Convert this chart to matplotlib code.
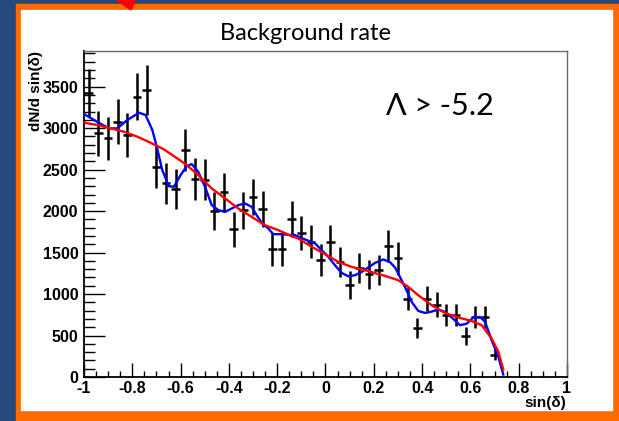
import matplotlib.pyplot as plt
import matplotlib.patches as mpatches
import numpy as np

# binned data: bin centres in sin(delta), values and errors
sin_dec = [-0.98, -0.94, -0.90, -0.86, -0.82, -0.78, -0.74, -0.70, -0.66, -0.62,
	-0.58, -0.54, -0.50, -0.46, -0.42, -0.38, -0.34, -0.30, -0.26, -0.22,
	-0.18, -0.14, -0.10, -0.06, -0.02, 0.02, 0.06, 0.10, 0.14, 0.18,
	0.22, 0.26, 0.30, 0.34, 0.38, 0.42, 0.46, 0.50, 0.54, 0.58,
	0.62, 0.66, 0.70]
rate = [3420, 2937, 2877, 3078, 2917, 3379, 3460, 2534, 2334, 2262,
	2736, 2385, 2380, 2006, 2227, 1783, 2008, 2166, 2028, 1541,
	1541, 1905, 1730, 1630, 1408, 1630, 1388, 1107, 1315, 1236,
	1288, 1580, 1429, 946, 596, 946, 874, 745, 745, 491,
	724, 724, 270]
rate_err = [290, 270, 262, 272, 265, 286, 300, 255, 245, 240,
	255, 250, 250, 230, 235, 211, 225, 215, 217, 197,
	197, 217, 205, 200, 191, 200, 185, 171, 181, 177,
	177, 195, 196, 141, 121, 145, 145, 135, 135, 107,
	130, 130, 68]

# blue (fine) fit, traced
blue_x = [-1.0, -0.945, -0.896, -0.862, -0.821, -0.772, -0.745, -0.717, -0.697, -0.676,
	-0.649, -0.628, -0.600, -0.575, -0.554, -0.527, -0.499, -0.471, -0.444, -0.416,
	-0.388, -0.361, -0.333, -0.306, -0.285, -0.264, -0.237, -0.216, -0.181, -0.140,
	-0.126, -0.085, -0.043, -0.016, 0.012, 0.039, 0.067, 0.094, 0.122, 0.150,
	0.177, 0.205, 0.239, 0.267, 0.288, 0.301, 0.329, 0.357, 0.384, 0.412,
	0.440, 0.467, 0.495, 0.523, 0.557, 0.585, 0.612, 0.640, 0.661, 0.688,
	0.716, 0.736]
blue_y = [3170, 3075, 2997, 2997, 3098, 3186, 3158, 2977, 2756, 2494,
	2301, 2293, 2434, 2540, 2567, 2474, 2293, 2072, 2012, 1991,
	2032, 2072, 2092, 2052, 1951, 1859, 1791, 1722, 1722, 1710,
	1710, 1658, 1610, 1529, 1448, 1348, 1255, 1215, 1227, 1267,
	1320, 1376, 1417, 1385, 1320, 1248, 1086, 905, 797, 772,
	789, 813, 785, 717, 624, 644, 717, 724, 664, 443,
	241, 30]

# red (smooth) fit, traced
red_x = [-1.0, -0.945, -0.889, -0.834, -0.779, -0.724, -0.669, -0.614, -0.577, -0.527,
	-0.471, -0.416, -0.361, -0.306, -0.251, -0.195, -0.140, -0.113, -0.057, -0.002,
	0.053, 0.108, 0.164, 0.219, 0.246, 0.301, 0.343, 0.384, 0.440, 0.495,
	0.550, 0.605, 0.647, 0.688, 0.716, 0.736]
red_y = [3066, 3038, 2997, 2957, 2897, 2824, 2744, 2635, 2560, 2434,
	2273, 2153, 2032, 1931, 1831, 1770, 1698, 1670, 1569, 1481,
	1388, 1328, 1288, 1240, 1220, 1167, 1086, 986, 865, 772,
	717, 676, 624, 463, 302, 90]

W, H = 619, 421
fig = plt.figure(figsize=(W / 100, H / 100), dpi=100)
fig.patch.set_facecolor('#224a7c')

def px_rect(x0, y0, x1, y1, color):
	# rectangle given in pixel coords (origin top-left)
	fig.patches.append(mpatches.Rectangle((x0 / W, 1 - y1 / H), (x1 - x0) / W, (y1 - y0) / H,
		transform=fig.transFigure, color=color, zorder=-10))

px_rect(16, 4, W, H, '#ff6a00')
px_rect(21, 9.5, 612, 410, 'white')
fig.patches.append(mpatches.Polygon([(117 / W, 1.0), (135 / W, 1.0), (131 / W, 1 - 10 / H)],
	closed=True, transform=fig.transFigure, color='#ff0000', zorder=-5))

ax = fig.add_axes([84 / W, 1 - 377 / H, 483 / W, 326 / H])
ax.set_facecolor('white')

ax.errorbar(sin_dec, rate, yerr=rate_err, xerr=0.018, fmt='none', ecolor='black',
	elinewidth=1.8, capsize=0, zorder=2)
ax.plot(blue_x, blue_y, color='#0000ff', lw=1.7, zorder=3)
ax.plot(red_x, red_y, color='#ff0000', lw=1.7, zorder=4)

ax.set_xlim(-1, 1)
ax.set_ylim(0, 3930)

xt = [-1, -0.8, -0.6, -0.4, -0.2, 0, 0.2, 0.4, 0.6, 0.8, 1]
yt = [0, 500, 1000, 1500, 2000, 2500, 3000, 3500]
ax.set_xticks(xt)
ax.set_xticklabels(['-1', '-0.8', '-0.6', '-0.4', '-0.2', '0', '0.2', '0.4', '0.6', '0.8', '1'])
ax.set_xticks(np.arange(-1, 1.001, 0.05), minor=True)
ax.set_yticks(yt)
ax.set_yticklabels([str(v) for v in yt])
ax.set_yticks(np.arange(0, 3901, 100), minor=True)

for lab in ax.get_xticklabels() + ax.get_yticklabels():
	lab.set_family('Liberation Sans')
	lab.set_fontweight('bold')
	lab.set_fontsize(11.5)

ax.tick_params(axis='x', which='major', direction='in', length=10, width=1, pad=3)
ax.tick_params(axis='x', which='minor', direction='in', length=4.5, width=1)
ax.tick_params(axis='y', which='major', direction='in', length=15, width=1, pad=4)
ax.tick_params(axis='y', which='minor', direction='in', length=8, width=1)

for s in ['top', 'right']:
	ax.spines[s].set_color('#6a6a6a')
	ax.spines[s].set_linewidth(1)
for s in ['left', 'bottom']:
	ax.spines[s].set_color('black')
	ax.spines[s].set_linewidth(1.3)

fig.text(305 / W, 1 - 33 / H, 'Background rate', family='Lato', size=17,
	ha='center', va='center')
fig.text(440 / W, 1 - 106 / H, 'Λ > -5.2', family='Lato', size=22, ha='center', va='center')
fig.text(36 / W, 1 - 51 / H, 'dN/d sin(δ)', family='Liberation Sans', weight='bold', size=11,
	rotation=90, ha='center', va='top')
fig.text(566 / W, 1 - 403 / H, 'sin(δ)', family='Liberation Sans', weight='bold', size=11,
	ha='right', va='center')

fig.savefig('out.png', dpi=100)
